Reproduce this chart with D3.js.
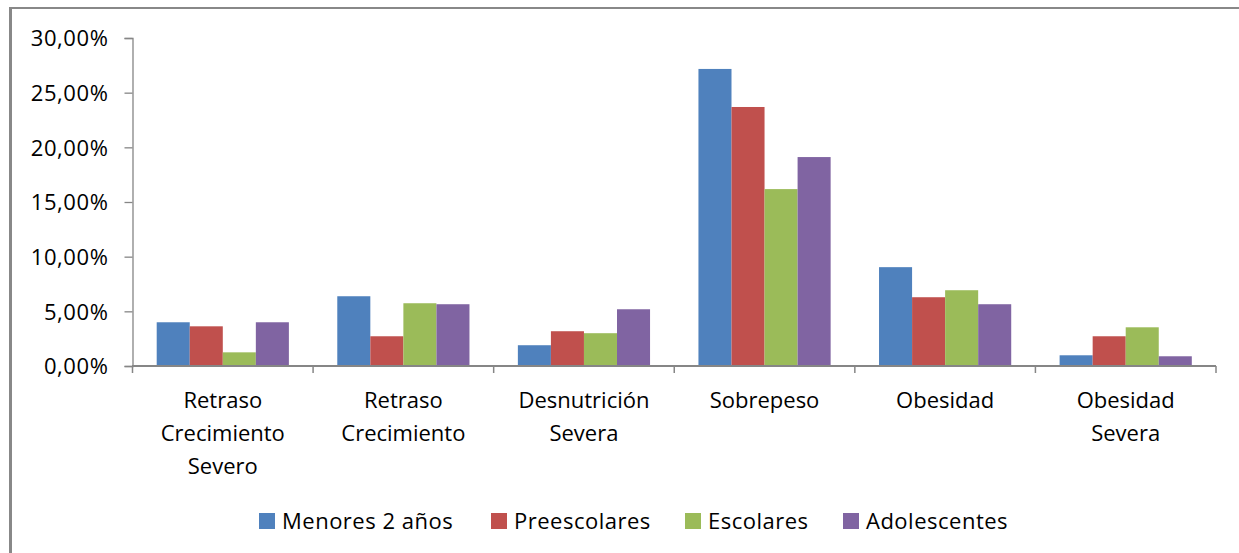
<!DOCTYPE html>
<html>
<head>
<meta charset="utf-8">
<script src="https://cdn.jsdelivr.net/npm/d3@7"></script>
<style>
  html, body { margin: 0; padding: 0; background: #fff; }
  svg { display: block; }
  text { font-family: "Open Sans", "DejaVu Sans", sans-serif; fill: #000; }
</style>
</head>
<body>
<svg id="chart" width="1239" height="553"></svg>
<script>
const categories = [
  ["Retraso", "Crecimiento", "Severo"],
  ["Retraso", "Crecimiento"],
  ["Desnutrición", "Severa"],
  ["Sobrepeso"],
  ["Obesidad"],
  ["Obesidad", "Severa"]
];
const seriesNames = ["Menores 2 años", "Preescolares", "Escolares", "Adolescentes"];
const seriesColors = ["#4F81BD", "#C0504D", "#9BBB59", "#8064A2"];
const menores2 = [4.00, 6.38, 1.90, 27.17, 9.04, 0.98];
const preescolares = [3.63, 2.72, 3.18, 23.69, 6.29, 2.72];
const escolares = [1.25, 5.74, 3.00, 16.18, 6.93, 3.54];
const adolescentes = [4.00, 5.65, 5.19, 19.11, 5.65, 0.89];
const seriesValues = [menores2, preescolares, escolares, adolescentes];
const yTicks = [0, 5, 10, 15, 20, 25, 30];

(function () {
const svg = d3.select("#chart");

// frame (top and left edges visible)
svg.append("line").attr("x1", 10).attr("x2", 1239).attr("y1", 8).attr("y2", 8)
  .attr("stroke", "#888").attr("stroke-width", 2);
svg.append("line").attr("x1", 10.5).attr("x2", 10.5).attr("y1", 7).attr("y2", 553)
  .attr("stroke", "#888").attr("stroke-width", 3);

const mLeft = 132.5, mRight = 1216, mTop = 38, mBottom = 366;

const y = d3.scaleLinear().domain([0, 30]).range([mBottom, mTop]);
const x0 = d3.scaleBand().domain(d3.range(categories.length)).range([mLeft, mRight]).padding(0);
const bw = x0.bandwidth();
const groupW = bw * 0.732;
const x1 = d3.scaleBand().domain(d3.range(seriesNames.length))
  .range([(bw - groupW) / 2, (bw + groupW) / 2]).padding(0);

// bars
seriesValues.forEach((vals, si) => {
  svg.append("g").selectAll("rect").data(vals).join("rect")
    .attr("x", (d, i) => x0(i) + x1(si))
    .attr("width", x1.bandwidth())
    .attr("y", d => y(d))
    .attr("height", d => mBottom - y(d))
    .attr("fill", seriesColors[si]);
});

// y axis
const fmt = v => v.toFixed(2).replace(".", ",") + "%";
const yAxis = d3.axisLeft(y).tickValues(yTicks).tickFormat(fmt).tickSize(8).tickPadding(16);
const gy = svg.append("g").attr("transform", `translate(${mLeft},0)`).call(yAxis);
gy.select(".domain").attr("stroke", "#868686").attr("stroke-width", 1.3);
gy.selectAll(".tick line").attr("stroke", "#868686").attr("stroke-width", 1.3);
gy.selectAll(".tick text").attr("font-size", 22).attr("font-family", "'Open Sans', sans-serif")
  .attr("fill", "#000").attr("dy", "0.36em").attr("letter-spacing", 0.6);

// x axis
const xTickPos = d3.range(categories.length + 1).map(i => mLeft + i * bw);
const gx = svg.append("g");
gx.append("line").attr("x1", mLeft - 0.5).attr("x2", mRight).attr("y1", mBottom).attr("y2", mBottom)
  .attr("stroke", "#868686").attr("stroke-width", 2);
gx.selectAll("line.t").data(xTickPos).join("line").attr("class", "t")
  .attr("x1", d => d).attr("x2", d => d).attr("y1", mBottom).attr("y2", mBottom + 7)
  .attr("stroke", "#868686").attr("stroke-width", 1.5);

// category labels
const labels = svg.append("g").selectAll("text").data(categories).join("text")
  .attr("text-anchor", "middle").attr("font-size", 22)
  .attr("x", (d, i) => x0(i) + bw / 2).attr("y", 408);
labels.each(function(lines, i) {
  const t = d3.select(this);
  lines.forEach((ln, k) => {
    t.append("tspan").attr("x", x0(i) + bw / 2).attr("y", 408 + k * 33).text(ln);
  });
});

// legend
const legendX = [259, 491, 685, 843];
const lg = svg.append("g").selectAll("g").data(seriesNames).join("g")
  .attr("transform", (d, i) => `translate(${legendX[i]},513)`);
lg.append("rect").attr("width", 16).attr("height", 16).attr("fill", (d, i) => seriesColors[i]);
lg.append("text").attr("x", 23).attr("y", 16).attr("font-size", 22).attr("letter-spacing", 0.5).text(d => d);
})();
</script>
</body>
</html>
